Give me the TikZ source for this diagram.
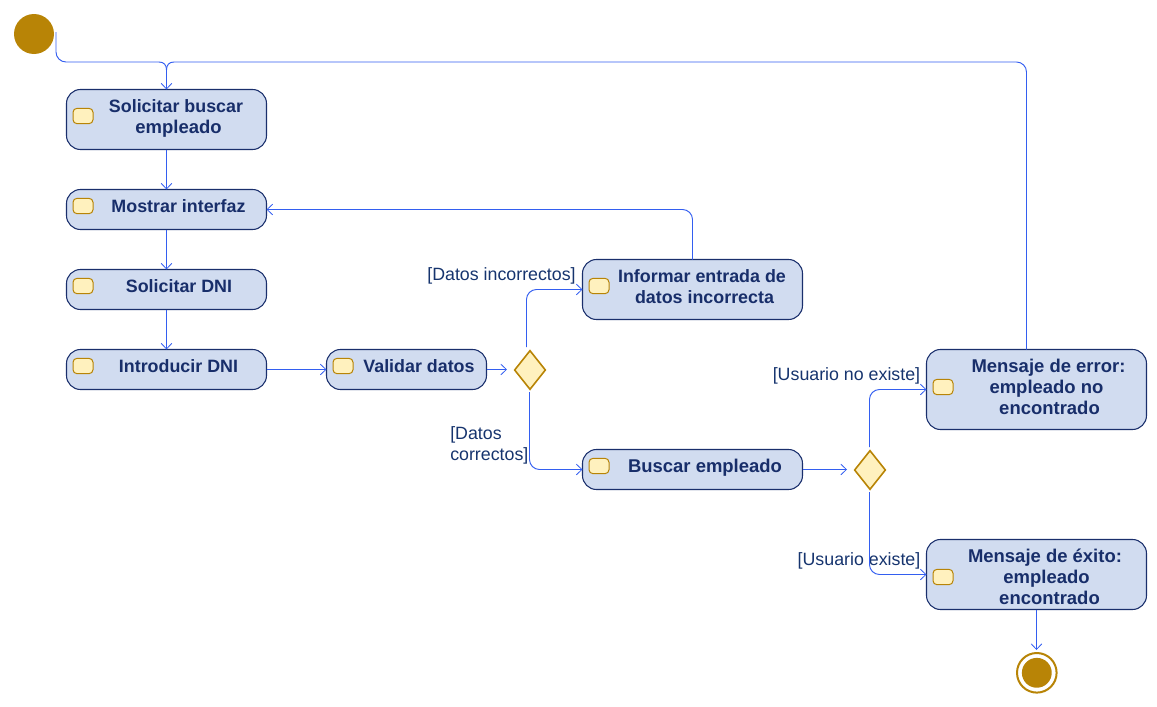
\documentclass[tikz,border=0pt]{standalone}
\usepackage{fontspec}
\setmainfont{Liberation Sans}
\usetikzlibrary{arrows.meta,shapes.geometric}
\definecolor{flowc}{RGB}{51,94,240}
\definecolor{boxfill}{RGB}{209,220,240}
\definecolor{boxline}{RGB}{26,47,108}
\definecolor{gold}{RGB}{184,132,6}
\definecolor{iconfill}{RGB}{255,241,190}
\definecolor{txt}{RGB}{24,46,106}
\definecolor{guardc}{RGB}{22,52,110}
\tikzset{
  x=0.75pt,y=-0.75pt,
  actbox/.style 2 args={draw=boxline,fill=boxfill,line width=0.8pt,rounded corners=10.5pt,inner sep=0pt,outer sep=0pt,minimum width=#1*0.75pt,minimum height=#2*0.75pt},
  icon/.style={draw=gold,fill=iconfill,line width=0.75pt,rounded corners=3pt,inner sep=0pt,outer sep=0pt,minimum width=15pt,minimum height=11.5pt},
  boxtext/.style={anchor=base,inner sep=0pt,text=txt,font=\fontsize{13.4}{15}\selectfont\bfseries},
  widetext/.style={boxtext,font=\fontsize{13.85}{15}\selectfont\bfseries},
  guard/.style={anchor=base,inner sep=0pt,text=guardc,font=\fontsize{13.35}{15}\selectfont},
  decision/.style={diamond,draw=gold,fill=iconfill,line width=1.2pt,inner sep=0pt,outer sep=0pt,minimum width=23pt,minimum height=29pt,aspect=0.8},
  wire/.style={draw=flowc,line width=0.7pt,rounded corners=7.5pt},
  flow/.style={wire,-{Straight Barb[length=4.2pt,width=8pt,line width=0.6pt]}},
  startdot/.style={circle,fill=gold,inner sep=0pt,outer sep=0pt,minimum size=30pt},
  endring/.style={circle,draw=gold,fill=white,line width=1.5pt,inner sep=0pt,outer sep=0pt,minimum size=29.7pt},
  enddot/.style={circle,fill=gold,inner sep=0pt,outer sep=0pt,minimum size=22.4pt}
}
\begin{document}
\begin{tikzpicture}
\useasboundingbox (0,0) rectangle (1157,707);
% initial node
\node[startdot] (start) at (34,34) {};
% activities
\node[actbox={200}{60}] (a) at (166.5,119.5) {};
\node[actbox={200}{40}] (b) at (166.5,209.5) {};
\node[actbox={200}{40}] (c) at (166.5,289.5) {};
\node[actbox={200}{40}] (d) at (166.5,369.5) {};
\node[actbox={160}{40}] (e) at (406.5,369.5) {};
\node[actbox={220}{60}] (f) at (692.5,289.5) {};
\node[actbox={220}{40}] (g) at (692.5,469.5) {};
\node[actbox={220}{80}] (h) at (1036.5,389.5) {};
\node[actbox={220}{70}] (i) at (1036.5,574.5) {};
% icons
\node[icon] (ia) at (83,116) {};
\node[icon] (ib) at (83,206) {};
\node[icon] (ic) at (83,286) {};
\node[icon] (id) at (83,366) {};
\node[icon] (ie) at (343,366) {};
\node[icon] (if) at (599,286) {};
\node[icon] (ig) at (599,466) {};
\node[icon] (ih) at (943,387) {};
\node[icon] (ii) at (943,577) {};
% decisions
\node[decision] (p) at (530,370) {};
\node[decision] (q) at (870,470) {};
% final node
\node[endring] (z) at (1036.8,672.8) {};
\node[enddot] (zd) at (1036.8,672.8) {};
% box texts
\node[boxtext] (ta1) at (176,112) {Solicitar buscar};
\node[widetext] (ta2) at (178.5,133) {empleado};
\node[boxtext] (tb) at (178.5,212) {Mostrar interfaz};
\node[boxtext] (tc) at (179,292) {Solicitar DNI};
\node[boxtext] (td) at (178.5,372) {Introducir DNI};
\node[boxtext] (te) at (419,372) {Validar datos};
\node[boxtext] (tf1) at (702,282) {Informar entrada de};
\node[boxtext] (tf2) at (704.5,303) {datos incorrecta};
\node[widetext] (tg) at (705,472) {Buscar empleado};
\node[widetext] (th1) at (1048.5,372) {Mensaje de error:};
\node[widetext] (th2) at (1046.5,393) {empleado no};
\node[widetext] (th3) at (1049.5,414) {encontrado};
\node[widetext] (ti1) at (1045,562) {Mensaje de éxito:};
\node[widetext] (ti2) at (1046.5,583) {empleado};
\node[widetext] (ti3) at (1049.5,604) {encontrado};
% guards
\node[guard] (g1) at (501.5,280.5) {[Datos incorrectos]};
\node[guard,anchor=base west] (g2a) at (450,439) {[Datos};
\node[guard,anchor=base west] (g2b) at (450,460) {correctos]};
\node[guard] (g3) at (846.5,380) {[Usuario no existe]};
\node[guard] (g4) at (859,565) {[Usuario existe]};
% free ends
\coordinate (sout) at (56,32);
\coordinate (sc) at (56,62);
\coordinate (jl) at (159,62);
\coordinate (jr) at (174,62);
\coordinate (jm) at (166.5,70);
\coordinate (rc) at (1026.5,62);
\coordinate (herr) at (1026.5,349.5);
\coordinate (pin) at (507,369.5);
\coordinate (pup) at (526.5,347);
\coordinate (pdn) at (529.5,392);
\coordinate (qin) at (847,469.5);
\coordinate (qup) at (869.5,447);
\coordinate (qdn) at (869.5,492);
\coordinate (zin) at (1036.5,650);
% connectors
\draw[wire] (sout) -- (sc) -- (jl);
\draw[wire] (jl) .. controls (164,62) and (166.5,65) .. (jm);
\draw[wire] (herr) -- (rc) -- (jr);
\draw[wire] (jr) .. controls (169,62) and (166.5,65) .. (jm);
\draw[flow] (jm) -- (a.north);
\draw[flow] (a.south) -- (b.north);
\draw[flow] (b.south) -- (c.north);
\draw[flow] (c.south) -- (d.north);
\draw[flow] (d.east) -- (e.west);
\draw[flow] (e.east) -- (pin);
\draw[flow] (pup) |- (f.west);
\draw[flow] (pdn) |- (g.west);
\draw[flow] (f.north) |- (b.east);
\draw[flow] (g.east) -- (qin);
\draw[flow] (qup) |- (h.west);
\draw[flow] (qdn) |- (i.west);
\draw[flow] (i.south) -- (zin);
\end{tikzpicture}
\end{document}
